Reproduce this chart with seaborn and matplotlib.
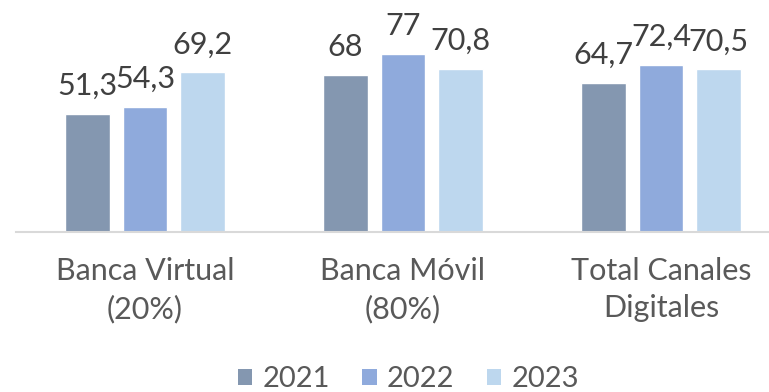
import matplotlib
matplotlib.use("Agg")
import matplotlib.pyplot as plt
import seaborn as sns
import pandas as pd
from matplotlib.patches import Patch

categories = ["Banca Virtual\n(20%)", "Banca Móvil\n(80%)", "Total Canales\nDigitales"]
years = ["2021", "2022", "2023"]
values_2021 = [51.3, 68.0, 64.7]
values_2022 = [54.3, 77.0, 72.4]
values_2023 = [69.2, 70.8, 70.5]
colors = ["#8497B0", "#8FAADC", "#BDD7EE"]

series = {"2021": values_2021, "2022": values_2022, "2023": values_2023}
df = pd.DataFrame(
    [(cat, yr, series[yr][i]) for yr in years for i, cat in enumerate(categories)],
    columns=["canal", "anio", "valor"],
)

sns.set_theme(style="white")
plt.rcParams["font.family"] = ["Lato", "DejaVu Sans"]

fig = plt.figure(figsize=(7.69, 3.92), dpi=100)
ax = fig.add_axes([16 / 769, 0.408, 774 / 769, 0.589])

sns.barplot(
    data=df, x="canal", y="valor", hue="anio", order=categories, hue_order=years,
    palette=colors, width=0.669, gap=0.22, saturation=1, legend=False, ax=ax,
)

def fmt(v):
    return str(int(v)) if float(v).is_integer() else f"{v:.1f}".replace(".", ",")

for cont, yr in zip(ax.containers, years):
    ax.bar_label(cont, labels=[fmt(v) for v in series[yr]], padding=10,
                 fontsize=22, color="#404040")

ax.set_ylim(0, 100)
ax.set_xlim(-0.5, 2.5)
ax.set_xlabel("")
ax.set_ylabel("")
ax.set_yticks([])
for s in ["top", "right", "left"]:
    ax.spines[s].set_visible(False)
ax.spines["bottom"].set_color("#D9D9D9")
ax.spines["bottom"].set_linewidth(1.5)
ax.tick_params(axis="x", length=0, pad=18, labelsize=22, labelcolor="#595959")
for t in ax.get_xticklabels():
    t.set_linespacing(1.4)

handles = [Patch(facecolor=c, edgecolor="none", label=y) for c, y in zip(colors, years)]
leg = fig.legend(handles=handles, loc="center", bbox_to_anchor=(0.531, 0.032),
                 ncol=3, frameon=False, fontsize=21, handlelength=0.5, handleheight=0.5,
                 handletextpad=0.35, columnspacing=1.1)
for t in leg.get_texts():
    t.set_color("#595959")

fig.savefig("out.png", dpi=100)
